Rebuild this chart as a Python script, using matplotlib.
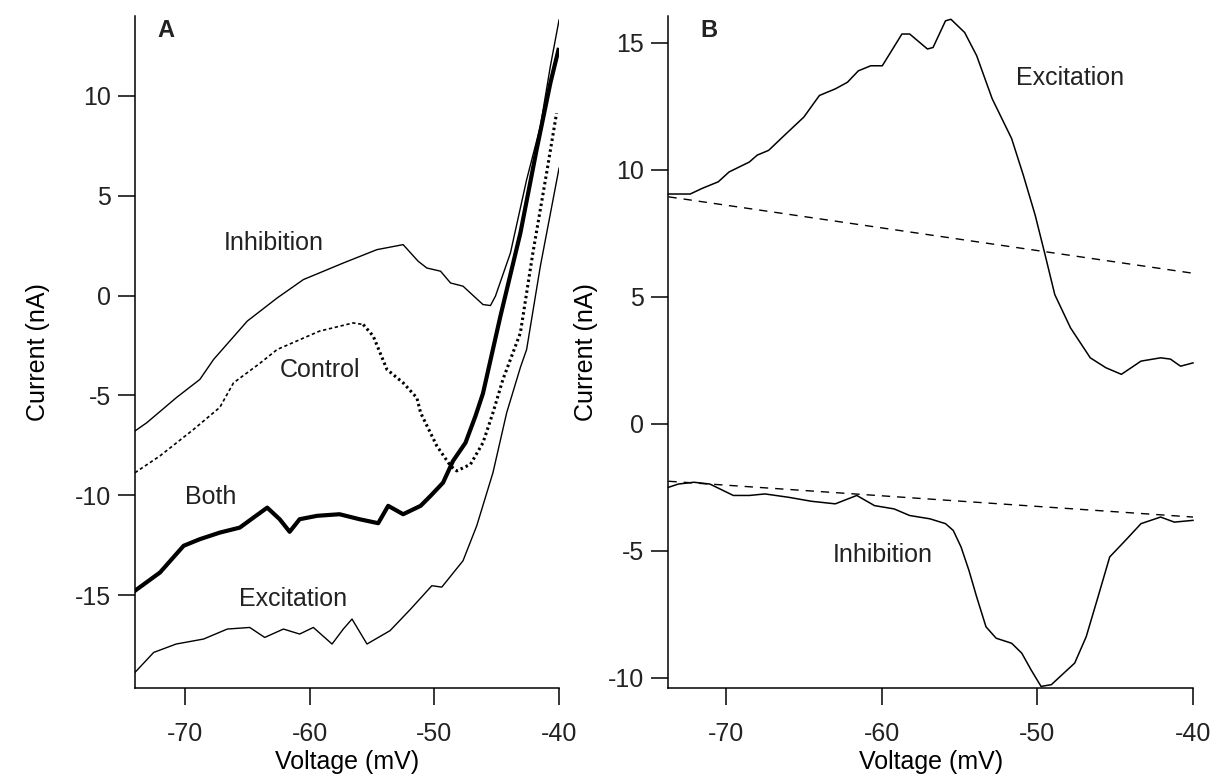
"""I-V curves: panel A (control / inhibition / excitation / both), panel B (difference currents)."""

import matplotlib

matplotlib.use("Agg")
import matplotlib.pyplot as plt  # noqa: E402

plt.rcParams.update(
    {
        "font.family": ["Liberation Sans", "DejaVu Sans"],
        "font.size": 18,
        "axes.unicode_minus": False,
        "axes.linewidth": 1.1,
        "xtick.major.width": 1.1,
        "ytick.major.width": 1.1,
        "xtick.major.size": 12.5,
        "ytick.major.size": 12.5,
        "xtick.major.pad": 12,
        "ytick.major.pad": 5,
        "text.color": "#222222",
        "xtick.labelcolor": "#222222",
        "ytick.labelcolor": "#222222",
    }
)

# ---- panel A ---------------------------------------------------------------
inh_a_v = [-74.0, -73.06, -70.66, -68.8, -67.7, -65.0, -62.6, -60.5, -57.3, -54.6,
           -52.5, -51.3, -50.6, -49.5, -48.7, -47.7, -46.1, -45.5, -45.1, -43.9,
           -42.6, -41.5, -40.7, -40.0]
inh_a_i = [-6.78, -6.37, -5.1, -4.2, -3.2, -1.28, -0.12, 0.8, 1.63, 2.3,
           2.55, 1.72, 1.38, 1.22, 0.63, 0.47, -0.45, -0.5, -0.03, 2.13,
           5.8, 8.47, 11.47, 13.8]

ctl_a_v = [-74.0, -72.0, -69.3, -67.2, -66.1, -64.0, -62.6, -59.2, -56.5, -55.7,
           -54.9, -53.8, -52.5, -51.4, -51.1, -49.8, -48.7, -48.2, -47.1, -46.1,
           -45.3, -44.5, -43.1, -42.1, -41.0, -40.2]
ctl_a_i = [-8.87, -8.03, -6.7, -5.6, -4.37, -3.4, -2.7, -1.78, -1.37, -1.45,
           -2.03, -3.7, -4.37, -5.12, -5.87, -7.53, -8.53, -8.78, -8.45, -7.37,
           -5.87, -4.2, -1.87, 2.13, 6.13, 9.13]
CTL_SPLIT = 9  # fine dashes up to the peak, heavier dots beyond

both_a_v = [-74.0, -72.0, -70.1, -68.8, -67.2, -65.6, -64.5, -63.4, -62.4, -61.6,
            -60.8, -59.4, -57.6, -56.0, -54.5, -53.7, -52.5, -51.1, -50.3, -49.3,
            -48.5, -47.5, -46.7, -46.1, -44.7, -43.1, -41.8, -40.7, -40.05]
both_a_i = [-14.78, -13.87, -12.53, -12.2, -11.87, -11.62, -11.12, -10.62, -11.2, -11.83,
            -11.2, -11.03, -10.95, -11.2, -11.4, -10.53, -10.95, -10.53, -10.03, -9.37,
            -8.28, -7.37, -6.03, -4.9, -1.03, 3.13, 7.3, 10.63, 12.3]

exc_a_v = [-74.0, -72.5, -70.7, -68.5, -66.6, -64.8, -63.6, -62.1, -60.8, -59.7,
           -58.2, -57.3, -56.6, -55.4, -53.55, -51.9, -50.2, -49.4, -47.7, -46.6,
           -45.3, -44.2, -43.1, -42.6, -41.5, -40.0]
exc_a_i = [-18.87, -17.87, -17.45, -17.2, -16.7, -16.62, -17.12, -16.7, -16.95, -16.62,
           -17.45, -16.7, -16.2, -17.45, -16.78, -15.7, -14.53, -14.6, -13.28, -11.53,
           -8.87, -5.87, -3.6, -2.7, 1.47, 6.38]

# ---- panel B ---------------------------------------------------------------
exc_b_v = [-73.7, -72.3, -71.54, -70.5, -69.8, -68.5, -68.0, -67.26, -66.25, -65.0,
           -64.0, -62.98, -62.2, -61.5, -60.7, -59.96, -58.7, -58.2, -57.06, -56.7,
           -55.9, -55.55, -54.67, -53.9, -52.9, -51.65, -50.9, -50.14, -49.5, -48.88,
           -47.87, -46.6, -45.6, -44.6, -43.34, -42.08, -41.45, -40.8, -40.0]
exc_b_i = [9.05, 9.05, 9.27, 9.53, 9.92, 10.31, 10.58, 10.77, 11.36, 12.08,
           12.93, 13.19, 13.45, 13.9, 14.1, 14.1, 15.35, 15.35, 14.76, 14.82,
           15.87, 15.93, 15.41, 14.5, 12.8, 11.23, 9.79, 8.22, 6.65, 5.09,
           3.78, 2.6, 2.21, 1.95, 2.47, 2.6, 2.55, 2.27, 2.4]

inh_b_v = [-73.7, -73.06, -72.06, -71.04, -69.53, -68.5, -67.5, -66.0, -64.5, -62.98,
           -61.6, -60.46, -59.2, -58.2, -56.9, -55.9, -55.4, -54.9, -54.4, -53.9,
           -53.3, -52.65, -51.65, -51.0, -50.4, -49.76, -49.1, -47.6, -46.86, -46.1,
           -45.35, -44.34, -43.34, -42.08, -41.2, -40.0]
inh_b_i = [-2.5, -2.37, -2.3, -2.37, -2.82, -2.82, -2.76, -2.89, -3.05, -3.15,
           -2.82, -3.22, -3.35, -3.61, -3.74, -3.93, -4.2, -4.85, -5.76, -6.81,
           -7.99, -8.44, -8.64, -9.03, -9.69, -10.34, -10.27, -9.42, -8.38, -6.81,
           -5.24, -4.59, -3.93, -3.67, -3.87, -3.8]

# linear leak fits through the resting segment
fit_v = [-73.7, -40.0]
fit_exc_i = [8.94, 5.93]
fit_inh_i = [-2.26, -3.67]

XTICKS = [-70, -60, -50, -40]


def _style(ax, xlim, ylim, yticks):
    ax.set_xlim(*xlim)
    ax.set_ylim(*ylim)
    ax.set_xticks(XTICKS)
    ax.set_yticks(yticks)
    for side in ("top", "right"):
        ax.spines[side].set_visible(False)
    ax.tick_params(direction="out")
    ax.set_xlabel("Voltage (mV)", labelpad=3)
    ax.set_ylabel("Current (nA)")


fig = plt.figure(figsize=(12.14, 7.8), dpi=100)
ax_a = fig.add_axes([0.1112, 0.118, 0.3493, 0.8615])
ax_b = fig.add_axes([0.5506, 0.118, 0.4321, 0.8615])

# A
ax_a.plot(inh_a_v, inh_a_i, color="black", lw=1.0)
ax_a.plot(ctl_a_v[:CTL_SPLIT + 1], ctl_a_i[:CTL_SPLIT + 1], color="black", lw=1.2,
          dashes=(2.0, 1.6))
ax_a.plot(ctl_a_v[CTL_SPLIT:], ctl_a_i[CTL_SPLIT:], color="black", lw=2.2,
          dashes=(0.8, 1.0))
ax_a.plot(both_a_v, both_a_i, color="black", lw=3.0, solid_joinstyle="round")
ax_a.plot(exc_a_v, exc_a_i, color="black", lw=1.0)
_style(ax_a, (-74.0, -40.0), (-19.65, 14.0), [-15, -10, -5, 0, 5, 10])
ax_a.yaxis.set_label_coords(-0.2, 0.5)

ax_a.text(-62.85, 2.65, "Inhibition", ha="center", va="center")
ax_a.text(-59.16, -3.75, "Control", ha="center", va="center")
ax_a.text(-67.9, -10.07, "Both", ha="center", va="center")
ax_a.text(-61.3, -15.2, "Excitation", ha="center", va="center")
ax_a.text(0.052, 0.995, "A", transform=ax_a.transAxes, ha="left", va="top",
          fontsize=17, fontweight="bold")

# B
ax_b.plot(exc_b_v, exc_b_i, color="black", lw=1.1, clip_on=False)
ax_b.plot(fit_v, fit_exc_i, color="black", lw=1.0, dashes=(6, 5))
ax_b.plot(inh_b_v, inh_b_i, color="black", lw=1.1, clip_on=False)
ax_b.plot(fit_v, fit_inh_i, color="black", lw=1.0, dashes=(6, 5))
_style(ax_b, (-73.7, -40.0), (-10.4, 16.06), [-10, -5, 0, 5, 10, 15])
ax_b.yaxis.set_label_coords(-0.135, 0.5)

ax_b.text(-47.87, 13.6, "Excitation", ha="center", va="center")
ax_b.text(-59.9, -5.18, "Inhibition", ha="center", va="center")
ax_b.text(0.061, 0.995, "B", transform=ax_b.transAxes, ha="left", va="top",
          fontsize=17, fontweight="bold")

fig.savefig("out.png", dpi=100)
plt.close(fig)
